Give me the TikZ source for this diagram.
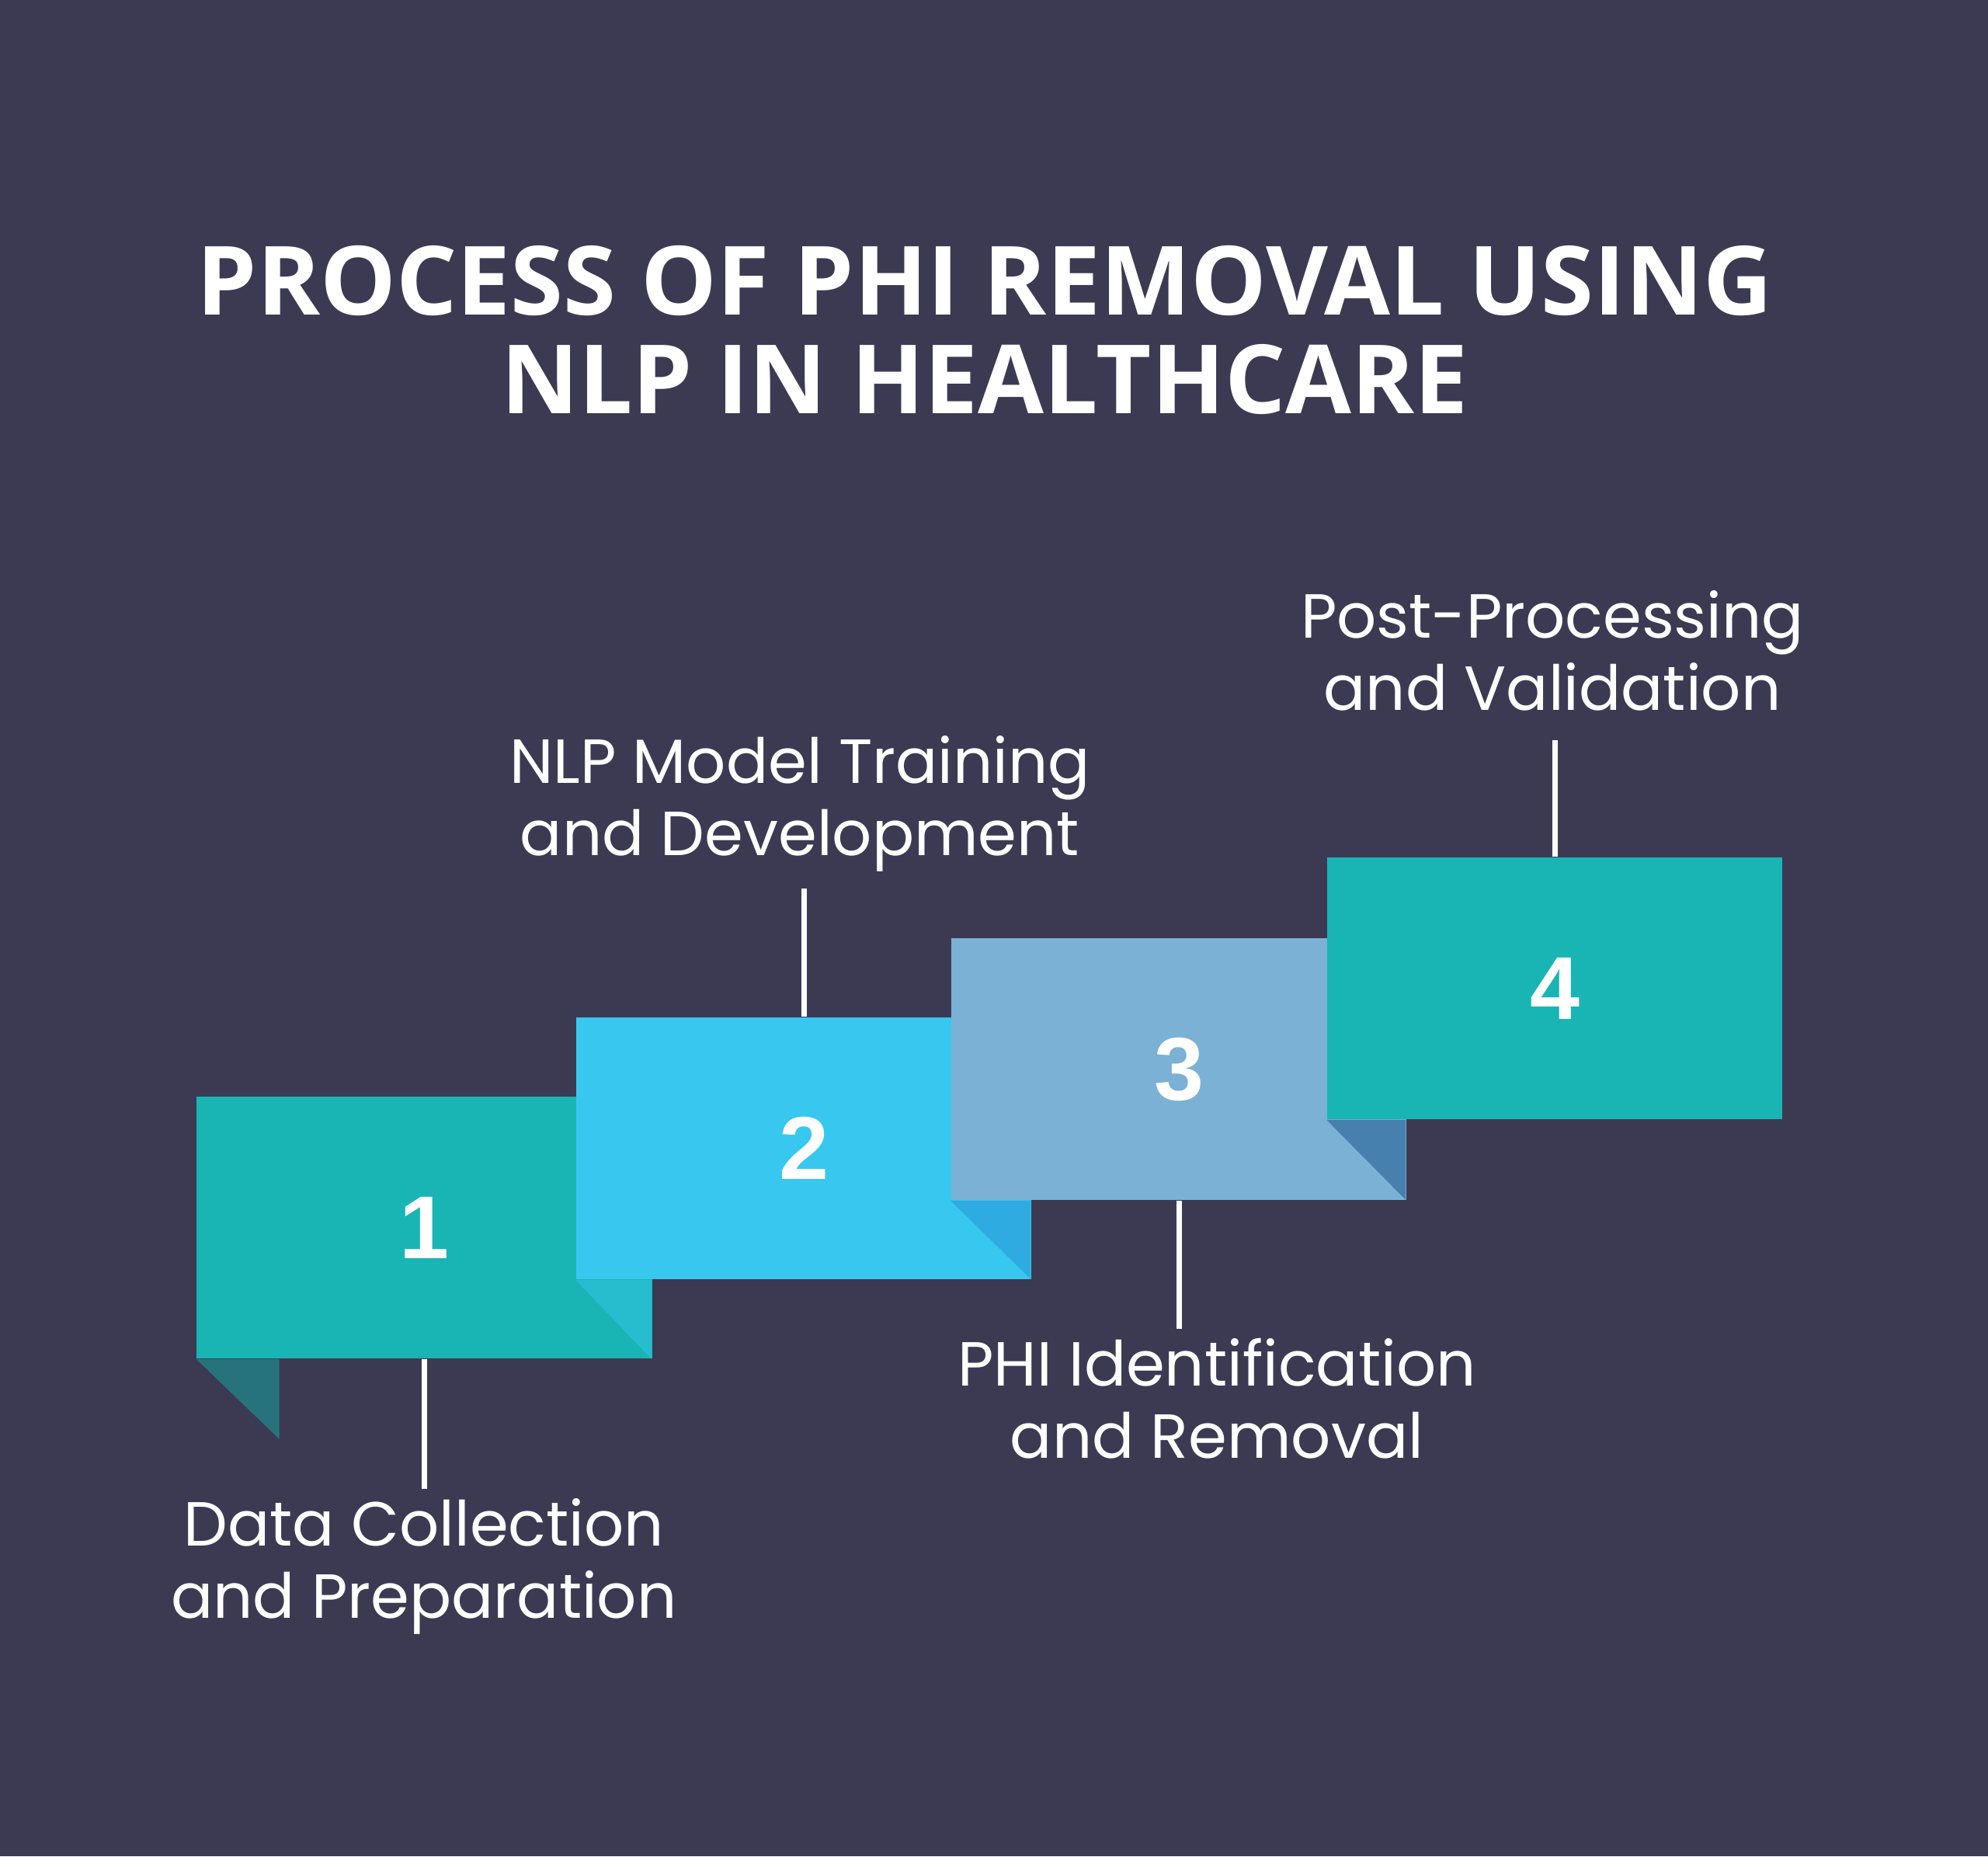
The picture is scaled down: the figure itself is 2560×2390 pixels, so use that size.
\documentclass[tikz,border=0pt]{standalone}
\usepackage{fontspec}
\setmainfont{Poppins}
\newfontfamily\titlefont{Open Sans}
\newfontfamily\numfont{Liberation Sans}
\usetikzlibrary{positioning}
\definecolor{bgnavy}{HTML}{3C3A53}
\definecolor{stepteal}{HTML}{19B5B5}
\definecolor{stepcyan}{HTML}{38C8EF}
\definecolor{stepsteel}{HTML}{7BB1D5}
\definecolor{foldone}{HTML}{27737D}
\definecolor{foldtwo}{HTML}{26BDCF}
\definecolor{foldthree}{HTML}{2EABE0}
\definecolor{foldfour}{HTML}{4580AF}
\tikzstyle{stepbox}   = [rectangle, minimum width=5.86cm, minimum height=3.37cm, inner sep=0pt,
                         text=white, font=\numfont\bfseries\fontsize{32.7}{36}\selectfont]
\tikzstyle{steplabel} = [align=center, text=white, inner sep=0.12cm,
                         font=\fontsize{22.8}{26.2}\selectfont]
\tikzstyle{headline}  = [align=center, text=white, inner sep=0pt,
                         font=\titlefont\bfseries\fontsize{35}{35.85}\selectfont]
\tikzstyle{link}      = [white, line width=0.07cm]

\begin{document}
\begin{tikzpicture}[x=0.01cm, y=-0.01cm]
  \fill[bgnavy] (0,0) rectangle (2560,2390);

  \node (title) [headline, anchor=base] at (1268,532) {PROCESS OF PHI REMOVAL USING\\NLP IN HEALTHCARE};

  % ribbon steps, each one folded under the next
  \node (b1) [stepbox, fill=stepteal]  at (546.5,1580.5) {1};
  \fill[foldone]   (b1.south west) -- ++(107,0) -- ++(0,103) -- cycle;
  \node (b2) [stepbox, fill=stepcyan]  at (1035,1478.5)  {2};
  \fill[foldtwo]   (b2.south west) -- ++(98,0) -- ++(0,102) -- cycle;
  \node (b3) [stepbox, fill=stepsteel] at (1518,1376.5)  {3};
  \fill[foldthree] (b3.south west) -- ++(103,0) -- ++(0,101) -- cycle;
  \node (b4) [stepbox, fill=stepteal]  at (2002,1272.5)  {4};
  \fill[foldfour]  (b4.south west) -- ++(102,0) -- ++(0,103) -- cycle;

  % labels
  \node (l1) [steplabel, anchor=base] at (546,2083)  {Data Collection\\and Preparation};
  \node (l2) [steplabel, anchor=base] at (1030,1101) {NLP Model Training\\and Development};
  \node (l3) [steplabel, anchor=base] at (1567,1877) {PHI Identification\\and Removal};
  \node (l4) [steplabel, anchor=base] at (1999,914)  {Post-Processing\\and Validation};

  \draw[link] (b1.south) -- (b1.south |- l1.north);
  \draw[link, shorten >=0.09cm] (b2.north) -- (b2.north |- l2.south);
  \draw[link] (b3.south) -- (b3.south |- l3.north);
  \draw[link, shorten >=0.26cm] (b4.north) -- (b4.north |- l4.south);
\end{tikzpicture}
\end{document}
